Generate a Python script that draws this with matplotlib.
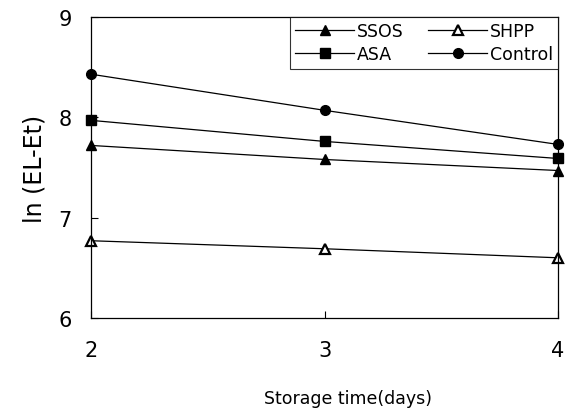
import matplotlib.pyplot as plt

# Daten
tage = [2, 3, 4]
ssos = [7.72, 7.58, 7.47]
shpp = [6.77, 6.69, 6.60]
asa = [7.97, 7.76, 7.59]
control = [8.43, 8.07, 7.73]

fig = plt.figure(figsize=(5.66, 4.1), dpi=100)
ax = fig.add_axes([0.161, 0.222, 0.825, 0.734])

lw = 0.9
ax.plot(tage, ssos, color="black", lw=lw, marker="^", ms=7, label="SSOS", clip_on=False)
ax.plot(tage, shpp, color="black", lw=lw, marker="^", ms=7, mfc="white", mew=1.6,
        label="SHPP", clip_on=False)
ax.plot(tage, asa, color="black", lw=lw, marker="s", ms=7, label="ASA", clip_on=False)
ax.plot(tage, control, color="black", lw=lw, marker="o", ms=7, label="Control", clip_on=False)

ax.set_xlim(2, 4)
ax.set_ylim(6, 9)
ax.set_xticks([2, 3, 4])
ax.set_yticks([6, 7, 8, 9])
ax.tick_params(direction="in", length=5, width=0.8, labelsize=15)
ax.tick_params(axis="x", pad=16)
ax.tick_params(axis="y", pad=14)
for s in ax.spines.values():
    s.set_linewidth(0.9)

ax.set_xlabel("Storage time(days)", fontsize=12.5)
ax.xaxis.set_label_coords(0.55, -0.235)
ax.set_ylabel("ln (EL-Et)", fontsize=17)
ax.yaxis.set_label_coords(-0.095, 0.5)

# Legende: Reihenfolge SSOS, SHPP / ASA, Control
h, l = ax.get_legend_handles_labels()
order = [0, 2, 1, 3]
leg = ax.legend([h[i] for i in order], [l[i] for i in order], ncol=2, loc="upper right",
                bbox_to_anchor=(1.0, 1.0), fontsize=12.5, frameon=True, fancybox=False,
                edgecolor="black", handlelength=3.4, handletextpad=0.15, columnspacing=1.4,
                borderpad=0.3, labelspacing=0.3, borderaxespad=0.0)
leg.get_frame().set_linewidth(0.8)

fig.savefig("out.png", dpi=100)
